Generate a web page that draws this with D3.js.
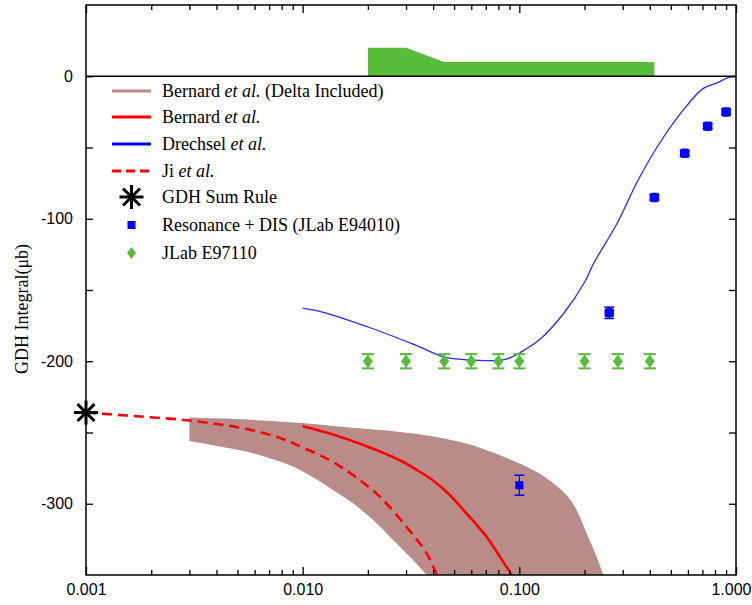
<!DOCTYPE html>
<html><head><meta charset="utf-8">
<script src="https://cdn.jsdelivr.net/npm/d3@7"></script>
<style>body{margin:0;background:#fff}svg{display:block}</style>
</head><body><svg id="c" width="752" height="605"></svg>
<script>
// ---------- data ----------
const xTickValues = [0.001, 0.01, 0.1, 1];
const xTickLabels = ["0.001", "0.010", "0.100", "1.000"];
const yTickValues = [0, -100, -200, -300];
const yTickLabels = ["0", "-100", "-200", "-300"];

const gdhQ2 = [0.001];
const gdhVal = [-236];

const jiQ2  = [0.001, 0.00116, 0.00171, 0.00272, 0.00387, 0.00552, 0.00786, 0.0099, 0.01337, 0.01713, 0.02274, 0.0302, 0.0374, 0.0416];
const jiVal = [-236, -236.7, -238.6, -240.9, -243.7, -247.6, -253.8, -260.2, -269.5, -280, -295.2, -316.3, -335, -350];

const bernardQ2  = [0.0100, 0.01337, 0.01975, 0.0281, 0.0336, 0.0401, 0.0479, 0.0571, 0.0707, 0.0814, 0.0922];
const bernardVal = [-245.6, -250.7, -259.6, -269.5, -276.2, -283.8, -294, -306.9, -323.3, -337.3, -350];

const bandTopQ2  = [0.003, 0.00552, 0.0099, 0.01597, 0.0281, 0.0401, 0.0571, 0.0814, 0.116, 0.1386, 0.1654, 0.184, 0.2047, 0.2276, 0.2443];
const bandTopVal = [-239.5, -240.9, -243.4, -246.4, -249.6, -252.8, -257.8, -266, -276.5, -283.8, -294, -304.6, -320.9, -337.3, -350];
const bandLowQ2  = [0.003, 0.00387, 0.00514, 0.00658, 0.00874, 0.0112, 0.01385, 0.01713, 0.0212, 0.0262, 0.0324, 0.0374];
const bandLowVal = [-255.9, -258.9, -262.5, -266.6, -273, -281.6, -290.5, -299.9, -311.6, -325.6, -339.6, -350];

const drechselQ2  = [0.0100, 0.0127, 0.0205, 0.0323, 0.0430, 0.0464, 0.0573, 0.0841, 0.0905, 0.1007, 0.1245, 0.159, 0.201, 0.219, 0.282, 0.353, 0.437, 0.569, 0.704, 0.817, 0.938, 1.0];
const drechselVal = [-162.7, -166, -176.5, -188, -196, -197.5, -199, -199, -197.6, -194, -184.6, -167, -144, -132, -103.5, -73, -48.6, -24, -8.7, -4.7, -0.5, 0];

const e94010Q2  = [0.10, 0.26, 0.42, 0.58, 0.74, 0.90];
const e94010Val = [-287, -166, -85, -54, -35, -25];
const e94010Err = [7, 4, 2, 2, 2, 2];

const e97110Q2  = [0.02, 0.03, 0.045, 0.06, 0.08, 0.10, 0.20, 0.285, 0.40];
const e97110Val = [-200, -200, -200, -200, -200, -200, -200, -200, -200];
const e97110Err = [5, 5, 5, 5, 5, 5, 5, 5, 5];

const sysQ2  = [0.02, 0.03, 0.045, 0.42];
const sysVal = [20, 20, 10, 10];

const legendLabels = [
  ["Bernard ", "et al.", " (Delta Included)"],
  ["Bernard ", "et al.", ""],
  ["Drechsel ", "et al.", ""],
  ["Ji ", "et al.", ""],
  ["GDH Sum Rule", "", ""],
  ["Resonance + DIS (JLab E94010)", "", ""],
  ["JLab E97110", "", ""]
];

// ---------- setup ----------
const svg = d3.select("#c");
const L = 86, R = 736, T = 5, B = 575;
const x = d3.scaleLog().domain([0.001, 1]).range([L, R]);
const y = d3.scaleLinear().domain([-350, 50]).range([B, T]);

const cBand = "#b98c8a", cRed = "#ff0000", cBlue = "#0000ff", cGreen = "#55bd3a";
const serif = "'Liberation Serif', 'Times New Roman', serif";
const sans = "'Liberation Sans', Arial, sans-serif";

svg.append("defs").append("clipPath").attr("id", "clip")
  .append("rect").attr("x", L).attr("y", T).attr("width", R - L).attr("height", B - T);
const plot = svg.append("g").attr("clip-path", "url(#clip)");

const zip = (a, b) => a.map((v, i) => [v, b[i]]);
const smooth = d3.line().x(d => x(d[0])).y(d => y(d[1])).curve(d3.curveCatmullRom.alpha(0.5));

// systematic band (top panel)
plot.append("path")
  .datum(zip(sysQ2, sysVal))
  .attr("fill", cGreen)
  .attr("d", d3.area().x(d => x(d[0])).y0(y(0)).y1(d => y(d[1])));

// Bernard delta band
const topStr = smooth(zip(bandTopQ2, bandTopVal));
const lowStr = smooth(zip(bandLowQ2, bandLowVal).reverse());
plot.append("path")
  .attr("fill", cBand)
  .attr("d", topStr + "L" + lowStr.slice(1) + "Z");

// Ji dashed
plot.append("path").datum(zip(jiQ2, jiVal))
  .attr("fill", "none").attr("stroke", cRed).attr("stroke-width", 2.6)
  .attr("stroke-dasharray", "10,6").attr("d", smooth);

// Bernard solid
plot.append("path").datum(zip(bernardQ2, bernardVal))
  .attr("fill", "none").attr("stroke", cRed).attr("stroke-width", 2.6).attr("d", smooth);

// Drechsel
plot.append("path").datum(zip(drechselQ2, drechselVal))
  .attr("fill", "none").attr("stroke", "#2a2aff").attr("stroke-width", 1.3).attr("d", smooth);

// E97110 points
const g97 = plot.append("g");
e97110Q2.forEach((q, i) => {
  const cx = x(q), cy = y(e97110Val[i]);
  const y1 = y(e97110Val[i] + e97110Err[i]), y2 = y(e97110Val[i] - e97110Err[i]);
  g97.append("line").attr("x1", cx).attr("x2", cx).attr("y1", y1).attr("y2", y2).attr("stroke", cGreen).attr("stroke-width", 1.5);
  g97.append("line").attr("x1", cx - 6).attr("x2", cx + 6).attr("y1", y1).attr("y2", y1).attr("stroke", cGreen).attr("stroke-width", 2);
  g97.append("line").attr("x1", cx - 6).attr("x2", cx + 6).attr("y1", y2).attr("y2", y2).attr("stroke", cGreen).attr("stroke-width", 2);
  g97.append("path").attr("d", `M${cx},${cy - 6.5}L${cx + 5},${cy}L${cx},${cy + 6.5}L${cx - 5},${cy}Z`).attr("fill", cGreen);
});

// E94010 points
const g94 = plot.append("g");
e94010Q2.forEach((q, i) => {
  const cx = x(q), cy = y(e94010Val[i]);
  const y1 = y(e94010Val[i] + e94010Err[i]), y2 = y(e94010Val[i] - e94010Err[i]);
  g94.append("line").attr("x1", cx).attr("x2", cx).attr("y1", y1).attr("y2", y2).attr("stroke", cBlue).attr("stroke-width", 1.2);
  g94.append("line").attr("x1", cx - 5).attr("x2", cx + 5).attr("y1", y1).attr("y2", y1).attr("stroke", cBlue).attr("stroke-width", 1.5);
  g94.append("line").attr("x1", cx - 5).attr("x2", cx + 5).attr("y1", y2).attr("y2", y2).attr("stroke", cBlue).attr("stroke-width", 1.5);
  const s = i === 0 ? 8 : 9.5;
  g94.append("rect").attr("x", cx - s / 2).attr("y", cy - s / 2).attr("width", s).attr("height", s)
    .attr("rx", i === 0 ? 0 : 2.5).attr("fill", cBlue);
});

// asterisk helper
function star(g, cx, cy, r, w) {
  for (let k = 0; k < 4; k++) {
    const a = k * Math.PI / 4;
    g.append("line")
      .attr("x1", cx - r * Math.cos(a)).attr("y1", cy - r * Math.sin(a))
      .attr("x2", cx + r * Math.cos(a)).attr("y2", cy + r * Math.sin(a))
      .attr("stroke", "#000").attr("stroke-width", w);
  }
}

// ---------- axes ----------
const majorX = xTickValues;
const minorX = [];
for (let d = 0.001; d < 1; d *= 10) for (let m = 2; m <= 9; m++) minorX.push(+(d * m).toPrecision(3));

function styleAxis(g) {
  g.select(".domain").remove();
  g.selectAll("line").attr("stroke", "#000").attr("stroke-width", 1.3);
}

svg.append("g").attr("transform", `translate(0,${B})`)
  .call(d3.axisBottom(x).tickValues(majorX).tickSize(-8).tickPadding(6)
    .tickFormat((d, i) => xTickLabels[i]))
  .call(styleAxis)
  .call(g => g.selectAll("text").attr("font-family", sans).attr("font-size", 16).attr("fill", "#000").attr("dy", "0.9em"))
  .call(g => g.selectAll("text").filter(d => d === 1).attr("text-anchor", "end").attr("x", 751 - R));
svg.append("g").attr("transform", `translate(0,${B})`)
  .call(d3.axisBottom(x).tickValues(minorX).tickSize(-5).tickFormat(""))
  .call(styleAxis);

svg.append("g").attr("transform", `translate(0,${T})`)
  .call(d3.axisTop(x).tickValues(majorX).tickSize(-8).tickFormat(""))
  .call(styleAxis);
svg.append("g").attr("transform", `translate(0,${T})`)
  .call(d3.axisTop(x).tickValues(minorX).tickSize(-5).tickFormat(""))
  .call(styleAxis);

svg.append("g").attr("transform", `translate(${L},0)`)
  .call(d3.axisLeft(y).tickValues(yTickValues).tickSize(-7).tickPadding(13)
    .tickFormat((d, i) => yTickLabels[i]))
  .call(styleAxis)
  .call(g => g.selectAll("text").attr("font-family", sans).attr("font-size", 16).attr("fill", "#000"));
svg.append("g").attr("transform", `translate(${L},0)`)
  .call(d3.axisLeft(y).tickValues([-50, -150, -250]).tickSize(-7).tickFormat(""))
  .call(styleAxis);

svg.append("g").attr("transform", `translate(${R},0)`)
  .call(d3.axisRight(y).tickValues([0, -50, -100, -150, -200, -250, -300]).tickSize(-7).tickFormat(""))
  .call(styleAxis);

// frame
svg.append("rect").attr("x", L).attr("y", T).attr("width", R - L).attr("height", B - T)
  .attr("fill", "none").attr("stroke", "#000").attr("stroke-width", 1.5);
svg.append("line").attr("x1", L).attr("x2", R).attr("y1", y(0)).attr("y2", y(0))
  .attr("stroke", "#000").attr("stroke-width", 1.6);

// GDH sum rule star
star(svg.append("g"), x(gdhQ2[0]), y(gdhVal[0]), 12, 3);

// y title
svg.append("text")
  .attr("transform", `translate(28,309) rotate(-90)`)
  .attr("text-anchor", "middle")
  .attr("font-family", serif).attr("font-size", 18).attr("fill", "#000")
  .text("GDH Integral(μb)");

// ---------- legend ----------
const rows = [91, 117, 144, 171, 197, 225, 253];
const lg = svg.append("g");
const lx1 = 112, lx2 = 151, tx = 162;
lg.append("line").attr("x1", lx1).attr("x2", lx2).attr("y1", rows[0]).attr("y2", rows[0]).attr("stroke", cBand).attr("stroke-width", 3);
lg.append("line").attr("x1", lx1).attr("x2", lx2).attr("y1", rows[1]).attr("y2", rows[1]).attr("stroke", cRed).attr("stroke-width", 3);
lg.append("line").attr("x1", lx1).attr("x2", lx2).attr("y1", rows[2]).attr("y2", rows[2]).attr("stroke", cBlue).attr("stroke-width", 3);
lg.append("line").attr("x1", lx1).attr("x2", lx2).attr("y1", rows[3]).attr("y2", rows[3]).attr("stroke", cRed).attr("stroke-width", 3).attr("stroke-dasharray", "9,5");
star(lg, 131.5, rows[4], 12, 3);
lg.append("rect").attr("x", 127.5).attr("y", rows[5] - 4).attr("width", 8).attr("height", 8).attr("fill", cBlue);
lg.append("path").attr("d", `M131.5,${rows[6] - 6}L136,${rows[6]}L131.5,${rows[6] + 6}L127,${rows[6]}Z`).attr("fill", cGreen);

legendLabels.forEach((parts, i) => {
  const t = lg.append("text").attr("x", tx).attr("y", rows[i] + 6)
    .attr("font-family", serif).attr("font-size", 18).attr("fill", "#000");
  t.append("tspan").text(parts[0]);
  if (parts[1]) t.append("tspan").attr("font-style", "italic").text(parts[1]);
  if (parts[2]) t.append("tspan").text(parts[2]);
});
</script></body></html>
